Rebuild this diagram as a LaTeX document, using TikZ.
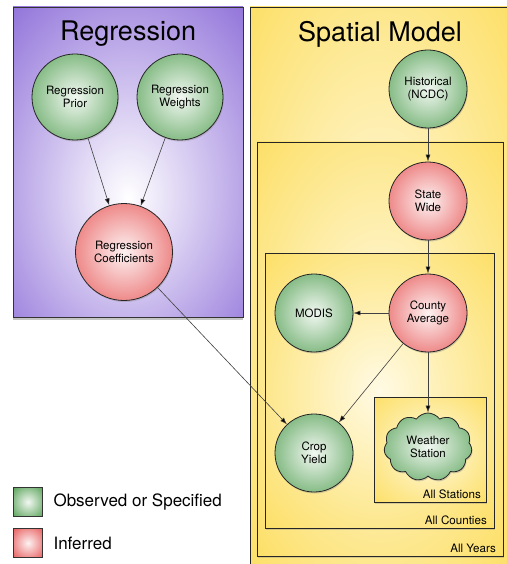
\documentclass[tikz,border=0pt]{standalone}
\usepackage{fontspec}
\setmainfont{TeX Gyre Heros}
\usetikzlibrary{arrows.meta,shapes.symbols,shadows,positioning,calc}

\definecolor{obsgreen}{RGB}{88,162,88}
\definecolor{infred}{RGB}{232,92,92}
\definecolor{plateyellow}{RGB}{252,220,88}
\definecolor{platelight}{RGB}{255,250,228}
\definecolor{regpurple}{RGB}{146,116,218}

\pgfdeclareradialshading{greenball}{\pgfpoint{0bp}{0bp}}{color(0bp)=(white!92!obsgreen); color(36bp)=(obsgreen); color(50bp)=(obsgreen)}
\pgfdeclareradialshading{redball}{\pgfpoint{0bp}{0bp}}{color(0bp)=(white!92!infred); color(36bp)=(infred); color(50bp)=(infred)}
\pgfdeclareradialshading{platefade}{\pgfpoint{0bp}{0bp}}{color(0bp)=(platelight); color(40bp)=(plateyellow); color(75bp)=(plateyellow)}
\pgfdeclareradialshading{regfade}{\pgfpoint{0bp}{-6bp}}{color(0bp)=(white); color(6bp)=(white!85!regpurple); color(38bp)=(regpurple); color(80bp)=(regpurple)}

\begin{document}
\begin{tikzpicture}[x=1pt,y=-1pt,>={Latex[length=7pt,width=5pt]},
  observed/.style={shape=circle,draw=black!85,thick,shading=greenball,
    align=center,font=\fontsize{11.5}{13.5}\selectfont,minimum size=78pt,
    drop shadow={shadow xshift=0.8pt,shadow yshift=-1.5pt,opacity=0.35}},
  inferred/.style={observed,shading=redball},
  regbox/.style={draw=black!80,thick,shading=regfade,
    drop shadow={shadow xshift=0pt,shadow yshift=-3pt,opacity=0.45}},
  plate/.style={draw=black!85,thick,shading=platefade,
    drop shadow={shadow xshift=1pt,shadow yshift=-1.5pt,opacity=0.3}},
  platelabel/.style={anchor=south east,inner sep=2pt,font=\fontsize{11.6}{13}\selectfont},
  title/.style={font=\fontsize{27}{31}\selectfont},
  legendbox/.style={shape=rectangle,draw=black!80,minimum size=29pt},
  legendtext/.style={anchor=west,font=\fontsize{17}{20}\selectfont},
  link/.style={->,draw=black!75,semithick}]
\useasboundingbox[fill=white] (0,0) rectangle (506,564);

% regression part
\path[regbox] (13,7) rectangle (243,317);
\node[title](regtitle) at (128,34) {Regression};
\node[observed,minimum size=86pt](prior) at (75,97) {Regression\\Prior};
\node[observed,minimum size=86pt](weights) at (180,97) {Regression\\Weights};
\node[inferred,minimum size=97pt](coeff) at (124,252) {Regression\\Coefficients};

% spatial model with its plates
\path[plate,drop shadow={shadow xshift=0pt,shadow yshift=-3pt,opacity=0.4}] (250,7) rectangle (510,570);
\node[title](spatialtitle) at (380,34) {Spatial Model};
\path[plate] (257,142) rectangle (503,556);
\node[platelabel](years) at (498,555) {All Years};
\path[plate] (265,253) rectangle (494,528);
\node[platelabel](counties) at (489,527) {All Counties};
\path[plate] (374,397) rectangle (486,502);
\node[platelabel](stations) at (483,501) {All Stations};

\node[observed](hist) at (428,89) {Historical\\(NCDC)};
\node[inferred](state) at (428,201) {State\\Wide};
\node[inferred](county) at (428,313) {County\\Average};
\node[observed](modis) at (314,313) {MODIS};
\node[observed](crop) at (314,453) {Crop\\Yield};
\node[observed,shape=cloud,cloud puffs=11,cloud puff arc=110,aspect=1.3,
  minimum width=88pt,minimum height=68pt,inner sep=0pt](weather) at (428,447) {Weather\\Station};

% connectors
\path[link] (prior) edge (coeff);
\path[link] (weights) edge (coeff);
\path[link] (coeff) edge (crop);
\path[link] (hist) edge (state);
\path[link] (state) edge (county);
\path[link] (county) edge (modis);
\path[link] (county) edge (crop);
\path[link] (county) edge (weather);

% legend
\node[legendbox,shading=greenball](obskey) at (28,502) {};
\node[legendtext](obstext) at (50,502) {Observed or Specified};
\node[legendbox,shading=redball](infkey) at (28,543) {};
\node[legendtext](inftext) at (50,543) {Inferred};
\end{tikzpicture}
\end{document}
